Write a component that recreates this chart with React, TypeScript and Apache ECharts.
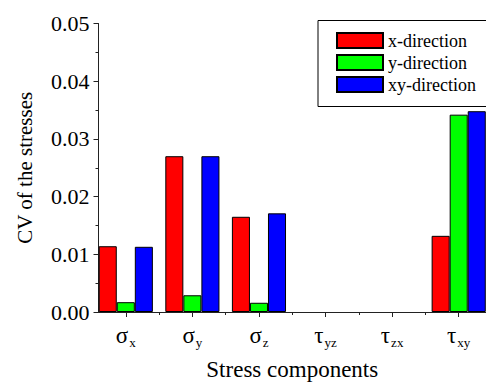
import React, { useEffect, useRef } from "react";
import * as echarts from "echarts";

const positions = [1, 2, 3, 4, 5, 6];
const symbols = ["σ", "σ", "σ", "τ", "τ", "τ"];
const subscripts = ["x", "y", "z", "yz", "zx", "xy"];
const xDirection = [0.0114, 0.027, 0.0165, 0, 0, 0.0132];
const yDirection = [0.0017, 0.0029, 0.0016, 0, 0, 0.0342];
const xyDirection = [0.0113, 0.027, 0.0171, 0, 0, 0.0348];
const boundaries = [1.5, 2.5, 3.5, 4.5, 5.5];
const seriesNames = ["x-direction", "y-direction", "xy-direction"];
const seriesColors = ["#ff0000", "#00ff00", "#0000ff"];

const FONT = "'Liberation Serif', 'Times New Roman', serif";

export default function App() {
  const ref = useRef<HTMLDivElement>(null);
  useEffect(() => {
    if (!ref.current) return;
    const chart = echarts.init(ref.current, undefined, { renderer: "svg" });
    const values = [xDirection, yDirection, xyDirection];
    chart.setOption({
      animation: false,
      backgroundColor: "#ffffff",
      textStyle: { fontFamily: FONT, color: "#000" },
      grid: { left: 98.5, top: 23.5, bottom: 76, right: -5, containLabel: false },
      legend: {
        left: 318,
        top: 20.5,
        orient: "vertical",
        data: seriesNames,
        itemWidth: 46,
        itemHeight: 15,
        itemGap: 4,
        borderColor: "#000",
        borderWidth: 1,
        padding: [11, 14, 13, 18],
        icon: "rect",
        textStyle: { fontFamily: FONT, fontSize: 18, color: "#000" },
      },
      xAxis: [
        {
          type: "value",
          min: 0.59,
          max: 6.41,
          name: "Stress components",
          nameLocation: "middle",
          nameGap: 46,
          nameTextStyle: { fontFamily: FONT, fontSize: 23, color: "#000" },
          axisLine: { show: true, lineStyle: { color: "#222", width: 1 } },
          axisTick: { show: true, length: 5, customValues: positions, lineStyle: { color: "#222" } },
          axisLabel: {
            customValues: positions,
            margin: 9,
            fontFamily: FONT,
            formatter: (v: number) => {
              const i = Math.round(v) - 1;
              return `{m|${symbols[i]}}{s|${subscripts[i]}}`;
            },
            rich: {
              m: { fontFamily: FONT, fontSize: 23, color: "#000" },
              s: { fontFamily: FONT, fontSize: 13, color: "#000", padding: [15, 0, 0, 1] },
            },
          },
          splitLine: { show: false },
        },
        {
          type: "value",
          min: 0.59,
          max: 6.41,
          position: "bottom",
          axisLine: { show: false },
          axisTick: { show: true, length: 3, customValues: boundaries, lineStyle: { color: "#222" } },
          axisLabel: { show: false, customValues: boundaries },
          splitLine: { show: false },
        },
      ],
      yAxis: {
        type: "value",
        min: 0,
        max: 0.05,
        interval: 0.01,
        name: "CV of the stresses",
        nameLocation: "middle",
        nameGap: 63,
        nameTextStyle: { fontFamily: FONT, fontSize: 21, color: "#000" },
        axisLine: { show: true, lineStyle: { color: "#222", width: 1 } },
        axisTick: { show: true, length: 5, lineStyle: { color: "#222" } },
        minorTick: { show: true, splitNumber: 2, length: 3, lineStyle: { color: "#222" } },
        axisLabel: {
          fontFamily: FONT,
          fontSize: 22,
          color: "#000",
          margin: 9,
          formatter: (v: number) => v.toFixed(2),
        },
        splitLine: { show: false },
      },
      series: seriesNames.map((name, k) => ({
        name,
        type: "bar",
        xAxisIndex: 0,
        barGap: "0%",
        barCategoryGap: "18.7%",
        itemStyle: { color: seriesColors[k], borderColor: "#000", borderWidth: 1 },
        data: positions.map((p, i) => [p, values[k][i] === 0 ? null : values[k][i]]),
      })),
    });
    return () => chart.dispose();
  }, []);
  return (
    <div
      ref={ref}
      style={{ position: "fixed", left: 0, top: 0, width: 486, height: 388 }}
    />
  );
}
